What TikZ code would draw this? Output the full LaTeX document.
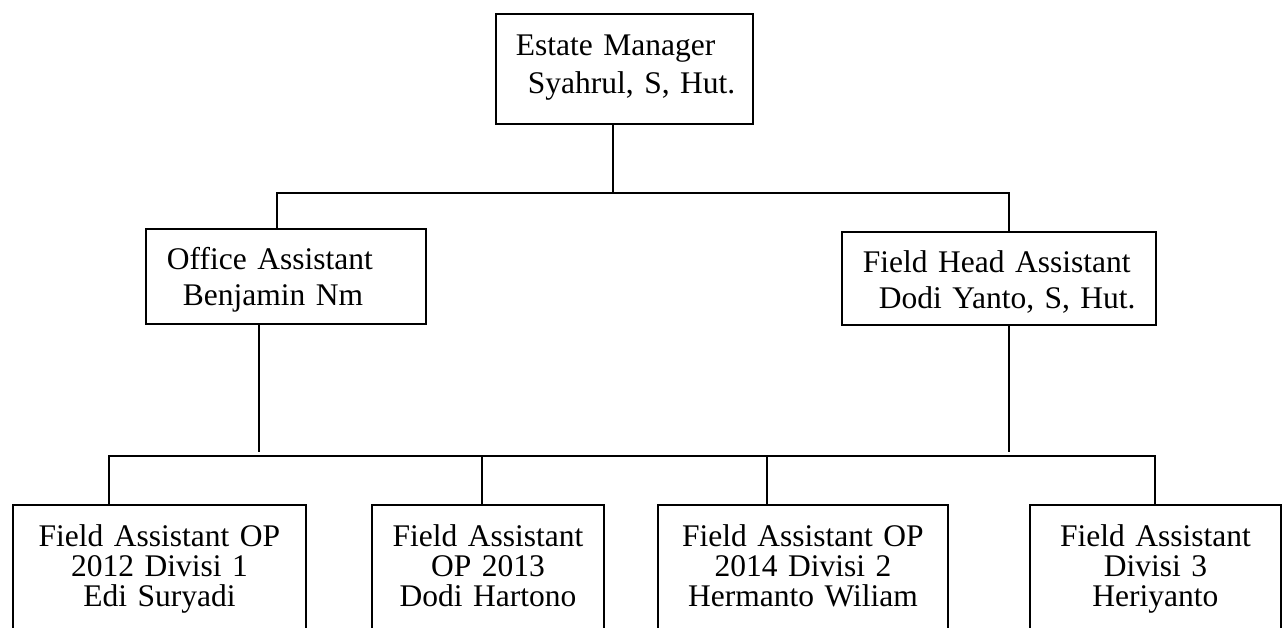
\documentclass[tikz,border=0pt]{standalone}
\usepackage{fontspec}
\setmainfont{Liberation Serif}
\usetikzlibrary{positioning}

\tikzset{
  unit/.style={draw, line width=1.8pt, anchor=north west, inner ysep=0pt},
  headunit/.style={unit, align=left, inner xsep=21pt, font=\fontsize{31.5}{36}\selectfont},
  fieldunit/.style={unit, align=center, inner xsep=0pt, text height=42pt, text depth=150pt,
    font=\fontsize{31.5}{30}\selectfont},
  link/.style={line width=1.8pt},
}

\begin{document}
\begin{tikzpicture}[x=1pt,y=-1pt]
  \useasboundingbox (0,0) rectangle (1285,628);
  \clip (0,0) rectangle (1285,628);

  % top
  \node[headunit, inner xsep=20pt, text width=217pt, text height=42pt, text depth=68pt,
    font=\fontsize{31.5}{38}\selectfont] (em) at (495,13)
    {\mbox{Estate Manager}\\\mbox{\hspace*{12pt}Syahrul, S, Hut.}};

  % second level
  \node[headunit, text width=238pt, text height=41pt, text depth=54pt] (off) at (145,228)
    {\mbox{Office Assistant}\\\mbox{\hspace*{16pt}Benjamin Nm}};
  \node[headunit, text width=272pt, text height=41pt, text depth=52pt] (fh) at (841,231)
    {\mbox{Field Head Assistant}\\\mbox{\hspace*{16pt}Dodi Yanto, S, Hut.}};

  % field assistants
  \node[fieldunit, text width=293pt] (fa1) at (12,504)
    {Field Assistant OP\\2012 Divisi 1\\Edi Suryadi};
  \node[fieldunit, text width=232pt] (fa2) at (371,504)
    {Field Assistant\\OP 2013\\Dodi Hartono};
  \node[fieldunit, text width=290pt] (fa3) at (657,504)
    {Field Assistant OP\\2014 Divisi 2\\Hermanto Wiliam};
  \node[fieldunit, text width=251pt] (fa4) at (1029,504)
    {Field Assistant\\Divisi 3\\Heriyanto};

  % upper bus
  \coordinate (upm) at (613,193);
  \coordinate (upw) at (277,193);
  \coordinate (upe) at (1009,193);
  \draw[link] (upm |- em.south) -- (upm);
  \draw[link] (upw |- off.north) -- (upw) -- (upe) -- (upe |- fh.north);

  % lower bus
  \coordinate (offdn) at (259,452);
  \coordinate (fhdn) at (1009,452);
  \draw[link] (offdn |- off.south) -- (offdn);
  \draw[link] (fhdn |- fh.south) -- (fhdn);
  \coordinate (lww) at (109,456);
  \coordinate (lwa) at (482,456);
  \coordinate (lwb) at (767,456);
  \coordinate (lwe) at (1155,456);
  \draw[link] (lww |- fa1.north) -- (lww) -- (lwe) -- (lwe |- fa4.north);
  \draw[link] (lwa) -- (lwa |- fa2.north);
  \draw[link] (lwb) -- (lwb |- fa3.north);
\end{tikzpicture}
\end{document}
